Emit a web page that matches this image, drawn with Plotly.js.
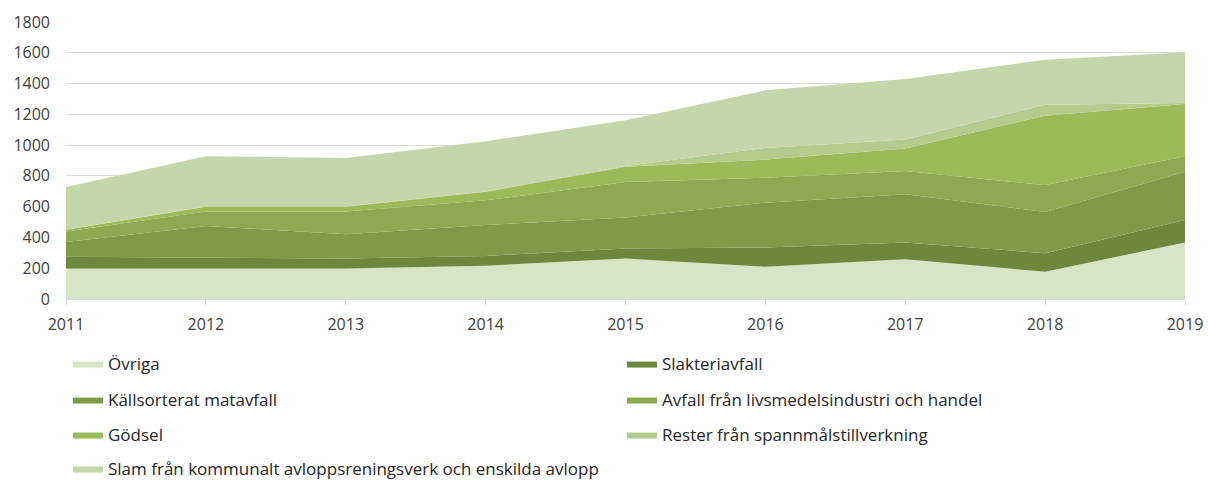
<!DOCTYPE html>
<html>
<head>
<meta charset="utf-8">
<script src="https://cdn.plot.ly/plotly-3.0.1.min.js"></script>
<style>html,body{margin:0;padding:0;background:#fff;}#chart{width:1208px;height:480px;}</style>
</head>
<body>
<div id="chart"></div>
<script>
const years = [2011, 2012, 2013, 2014, 2015, 2016, 2017, 2018, 2019];
const seriesNames = [
  "Övriga",
  "Slakteriavfall",
  "Källsorterat matavfall",
  "Avfall från livsmedelsindustri och handel",
  "Gödsel",
  "Rester från spannmålstillverkning",
  "Slam från kommunalt avloppsreningsverk och enskilda avlopp"
];
const ovriga       = [199, 199, 199, 216, 263, 209, 259, 177, 367];
const slakteri     = [75, 71, 64, 64, 65, 126, 108, 121, 147];
const kallsorterat = [97, 205, 158, 201, 201, 291, 313, 267, 313];
const avfall       = [67, 93, 147, 160, 231, 162, 151, 175, 101];
const godsel       = [12, 32, 32, 56, 99, 118, 147, 451, 339];
const rester       = [0, 3, 3, 2, 5, 76, 58, 72, 7];
const slam         = [277, 325, 314, 326, 297, 374, 393, 291, 330];
const yTicks = [0, 200, 400, 600, 800, 1000, 1200, 1400, 1600, 1800];

const seriesValues = [ovriga, slakteri, kallsorterat, avfall, godsel, rester, slam];
const colors = ["#d8e4c6", "#6e873c", "#7f9b49", "#8daa52", "#9bbb59", "#b3cc8e", "#c6d6ab"];
const legendIds = ["legend", "legend2", "legend3", "legend4", "legend5", "legend6", "legend7"];

const traces = seriesValues.map((vals, i) => ({
  type: "scatter",
  mode: "lines",
  x: years,
  y: vals,
  name: seriesNames[i],
  stackgroup: "one",
  fillcolor: colors[i],
  line: {width: 0, color: colors[i]},
  legend: legendIds[i],
  hoverinfo: "skip"
}));

const FONT = "'Open Sans', Lato, sans-serif";
const legendBase = {
  orientation: "h",
  xref: "container",
  yref: "container",
  xanchor: "left",
  yanchor: "middle",
  itemwidth: 30,
  font: {family: FONT, size: 17, color: "#262626"},
  bgcolor: "rgba(0,0,0,0)"
};
// legend item positions in container fractions (column, row)
const colX = [68 / 1208, 622 / 1208];
const rowY = [364, 400, 435, 469].map(p => 1 - p / 480);

const layout = {
  width: 1208,
  height: 480,
  margin: {l: 66, r: 23, t: 22, b: 181, autoexpand: false},
  paper_bgcolor: "#ffffff",
  plot_bgcolor: "#ffffff",
  font: {family: FONT, size: 16, color: "#404040"},
  showlegend: true,
  hovermode: false,
  xaxis: {
    range: [2011, 2019],
    tickvals: years,
    ticktext: years.map(String),
    showgrid: false,
    zeroline: false,
    showline: true,
    linecolor: "#d9d9d9",
    linewidth: 1,
    ticks: "outside",
    ticklen: 5,
    tickcolor: "#d9d9d9",
    ticklabelstandoff: 6,
    tickfont: {family: FONT, size: 16, color: "#404040"}
  },
  yaxis: {
    range: [0, 1800],
    tickvals: yTicks,
    showgrid: true,
    gridcolor: "#d9d9d9",
    gridwidth: 1,
    zeroline: false,
    showline: false,
    ticks: "",
    ticklabelstandoff: 15,
    tickfont: {family: FONT, size: 16, color: "#404040"}
  }
};
legendIds.forEach((id, i) => {
  layout[id] = Object.assign({}, legendBase, {
    x: colX[i % 2],
    y: rowY[Math.floor(i / 2)]
  });
});

Plotly.newPlot("chart", traces, layout, {displayModeBar: false, staticPlot: true});
</script>
</body>
</html>
